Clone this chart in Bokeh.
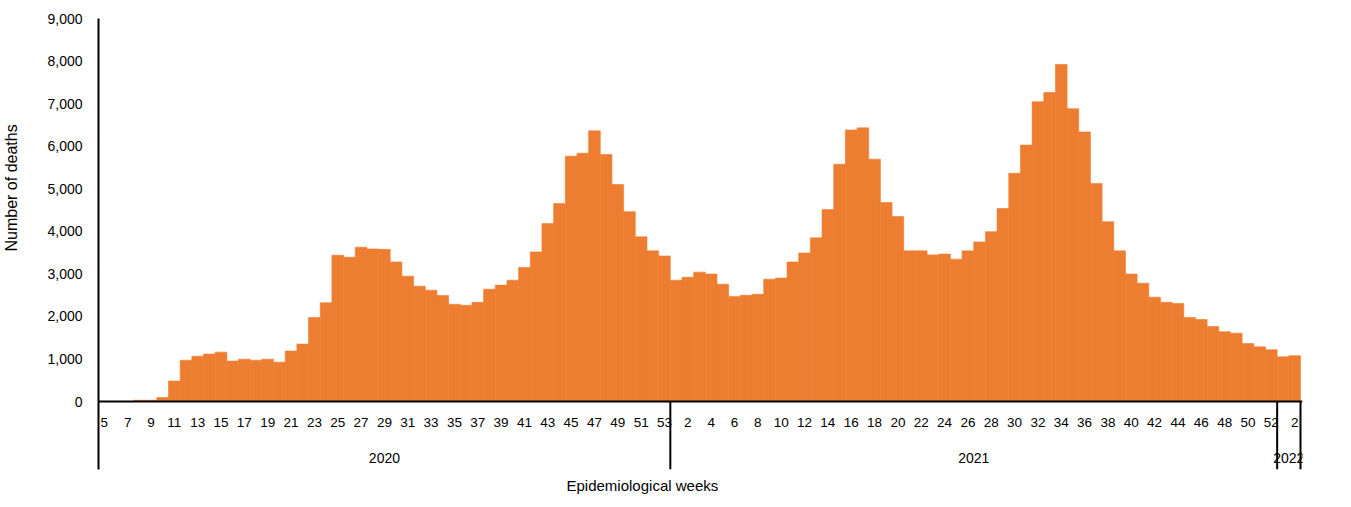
from bokeh.plotting import figure
from bokeh.models import (Range1d, FixedTicker, NumeralTickFormatter, ColumnDataSource,
                          Title, LinearAxis)
from bokeh.core.properties import value
from bokeh.embed import file_html
from bokeh.resources import INLINE

# ---- data ----
weeks_2020 = list(range(5, 54))
deaths_2020 = [0, 0, 0, 30, 30, 95, 480, 970, 1065, 1115,
               1160, 950, 995, 970, 995, 925, 1185, 1350, 1975, 2320,
               3435, 3390, 3625, 3585, 3575, 3280, 2945, 2710, 2615, 2490,
               2285, 2260, 2330, 2640, 2735, 2850, 3150, 3515, 4180, 4650,
               5765, 5835, 6360, 5805, 5100, 4460, 3870, 3540, 3420]
weeks_2021 = list(range(1, 53))
deaths_2021 = [2850, 2920, 3040, 2995, 2755, 2470, 2495, 2520, 2875, 2900,
               3280, 3490, 3845, 4510, 5575, 6380, 6430, 5695, 4675, 4345,
               3540, 3540, 3445, 3465, 3345, 3540, 3750, 3990, 4535, 5365,
               6025, 7045, 7260, 7920, 6880, 6335, 5125, 4225, 3540, 2995,
               2780, 2450, 2330, 2305, 1975, 1925, 1760, 1640, 1605, 1360,
               1285, 1215]
weeks_2022 = [1, 2]
deaths_2022 = [1050, 1075]
years = ["2020", "2021", "2022"]
y_ticks = list(range(0, 9001, 1000))

week_groups = [weeks_2020, weeks_2021, weeks_2022]
death_groups = [deaths_2020, deaths_2021, deaths_2022]

weeks = [w for g in week_groups for w in g]
deaths = [d for g in death_groups for d in g]
n = len(weeks)
xs = [i + 0.5 for i in range(n)]

bounds = [0]
for g in week_groups:
    bounds.append(bounds[-1] + len(g))

FONT = "Liberation Sans"
ORANGE = "#ED7D31"
YMAX = 9000
PLOT_H = 383            # pixels for 0..9000
SEP_H = 68              # pixels the year separators reach below zero
UNIT_PX = 1202 / n      # pixels per week
px = YMAX / PLOT_H      # data units per pixel
y_bottom = -SEP_H * px
x_end = n + 2 / UNIT_PX

p = figure(frame_width=round(x_end * UNIT_PX), frame_height=PLOT_H + SEP_H,
           x_range=Range1d(0, x_end), y_range=Range1d(y_bottom, YMAX),
           output_backend="svg", toolbar_location=None,
           min_border_left=0, min_border_top=18,
           min_border_right=20, min_border_bottom=0)

src = ColumnDataSource(dict(x=xs, top=deaths))
p.vbar(x="x", top="top", bottom=0, width=1.0, source=src,
       fill_color=ORANGE, line_color=ORANGE, line_width=0.6)

# year separators below the axis
sep_x = [float(b) for b in bounds[1:]]
p.segment(x0=sep_x, y0=[0] * len(sep_x), x1=sep_x, y1=[y_bottom] * len(sep_x),
          line_color="black", line_width=2)

# year labels
centers = [(bounds[k] + bounds[k + 1]) / 2 for k in range(len(years))]
p.text(x=centers, y=[-56 * px] * len(years), text=years,
       text_font=value(FONT), text_font_size=value("14px"), text_color="black",
       text_align="center", text_baseline="middle")

p.xgrid.visible = False
p.ygrid.visible = False
p.outline_line_color = None
p.background_fill_color = "white"
p.border_fill_color = "white"

# y axis
ya = p.yaxis[0]
ya.ticker = FixedTicker(ticks=y_ticks)
ya.formatter = NumeralTickFormatter(format="0,0")
ya.major_tick_out = 0
ya.major_tick_in = 0
ya.minor_tick_out = 0
ya.minor_tick_in = 0
ya.axis_line_color = "black"
ya.axis_line_width = 2
ya.major_label_standoff = 16
ya.major_label_text_font = FONT
ya.major_label_text_font_size = "14px"
ya.major_label_text_color = "black"

# invisible spacer between the tick labels and the y title
spacer = LinearAxis(ticker=FixedTicker(ticks=[0], minor_ticks=[]),
                    axis_line_color=None, major_tick_out=25, major_tick_in=0,
                    minor_tick_out=0, minor_tick_in=0, major_label_standoff=0,
                    major_tick_line_color=None, major_label_overrides={0: ""})
p.add_layout(spacer, "left")

p.add_layout(Title(text="Number of deaths", align="left", offset=218,
                   standoff=0, text_font=FONT, text_font_size="16px",
                   text_font_style="normal", text_color="black"), "left")

# x axis at zero, every other week labelled
xa = p.xaxis[0]
xa.fixed_location = 0
label_idx = list(range(0, n, 2))
xa.ticker = FixedTicker(ticks=[xs[i] for i in label_idx], minor_ticks=[])
xa.major_label_overrides = {xs[i]: str(weeks[i]) for i in label_idx}
xa.major_tick_out = 0
xa.major_tick_in = 0
xa.minor_tick_out = 0
xa.minor_tick_in = 0
xa.axis_line_color = "black"
xa.axis_line_width = 2
xa.major_label_standoff = 16
xa.major_label_text_font = FONT
xa.major_label_text_font_size = "13.5px"
xa.major_label_text_color = "black"

p.add_layout(Title(text="Epidemiological weeks", align="left", offset=468,
                   standoff=10, text_font=FONT, text_font_size="15px",
                   text_font_style="normal", text_color="black"), "below")

open("out.html", "w").write(file_html(p, INLINE))
